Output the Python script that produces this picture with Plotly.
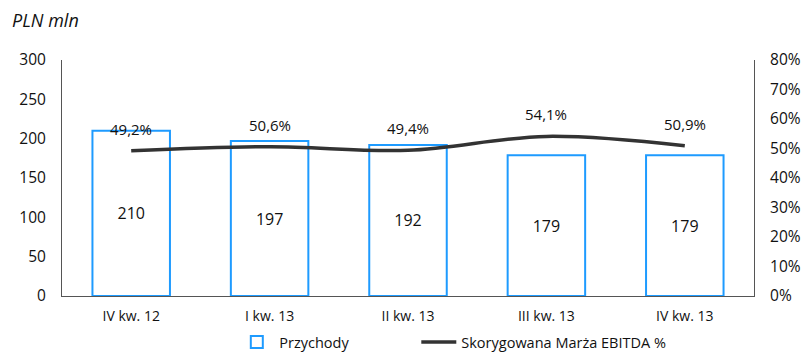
import plotly.graph_objects as go

categories = ["IV kw. 12", "I kw. 13", "II kw. 13", "III kw. 13", "IV kw. 13"]
revenue = [210, 197, 192, 179, 179]
ebitda_margin = [49.2, 50.6, 49.4, 54.1, 50.9]
margin_labels = ["49,2%", "50,6%", "49,4%", "54,1%", "50,9%"]

FONT = "Open Sans, Noto Sans, sans-serif"

fig = go.Figure()
fig.add_trace(go.Bar(
    x=categories, y=revenue, name="Przychody", legend="legend",
    marker=dict(color="white", line=dict(color="#1E9BFF", width=2)),
    width=0.56,
    text=[str(v) for v in revenue], textposition="inside",
    insidetextanchor="middle",
    textfont=dict(family=FONT, size=16, color="#111"),
))
fig.add_trace(go.Scatter(
    x=categories, y=ebitda_margin, yaxis="y2", mode="lines",
    name="Skorygowana Marża EBITDA %", legend="legend2",
    line=dict(color="#333333", width=3.5, shape="spline", smoothing=1.0),
))
for c, v, t in zip(categories, ebitda_margin, margin_labels):
    fig.add_annotation(x=c, y=v, yref="y2", text=t, showarrow=False,
                       yshift=22, font=dict(family=FONT, size=15, color="#111"))

fig.add_annotation(text="<i>PLN mln</i>", xref="paper", yref="paper",
                   x=-0.075, y=1.17, xanchor="left", yanchor="middle",
                   showarrow=False, font=dict(family=FONT, size=18, color="#111"))

legend_common = dict(orientation="h", y=-0.195, yanchor="middle", xanchor="left",
                     font=dict(family=FONT, size=14.5), itemwidth=35)

fig.update_layout(
    width=807, height=354,
    margin=dict(l=62, r=53, t=60, b=58, autoexpand=False),
    plot_bgcolor="white", paper_bgcolor="white",
    font=dict(family=FONT, color="#111"),
    showlegend=True,
    legend=dict(x=0.249, **legend_common),
    legend2=dict(x=0.512, **legend_common),
    xaxis=dict(showline=True, linecolor="#555", linewidth=1, showgrid=False,
               ticks="", tickfont=dict(family=FONT, size=14), ticklabelstandoff=7),
    yaxis=dict(range=[0, 300], dtick=50, showline=True, linecolor="#555",
               linewidth=1, showgrid=False, zeroline=False, ticks="",
               tickfont=dict(family=FONT, size=15.5), ticklabelstandoff=12),
    yaxis2=dict(range=[0, 80], dtick=10, ticksuffix="%", overlaying="y",
                side="right", showline=True, linecolor="#555", linewidth=1,
                showgrid=False, zeroline=False, ticks="",
                tickfont=dict(family=FONT, size=15.5), ticklabelstandoff=12),
    bargap=0.44,
)

fig.write_html("out.html")
